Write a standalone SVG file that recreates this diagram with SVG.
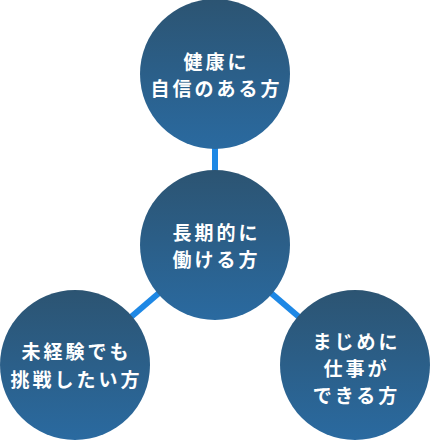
<svg xmlns="http://www.w3.org/2000/svg" width="430" height="440" viewBox="0 0 430 440">
  <defs>
    <linearGradient id="g" x1="0" y1="0" x2="0" y2="1">
      <stop offset="0" stop-color="#2c5472"/>
      <stop offset="1" stop-color="#2a6aa0"/>
    </linearGradient>
    <style>
      .c { fill: url(#g); }
      .t { fill: #ffffff; font-family: "Noto Sans CJK JP", "Noto Sans", sans-serif; font-size: 19px; font-weight: bold; letter-spacing: 3px; text-anchor: middle; }
      .l { stroke: #1e88e5; stroke-width: 6; fill: none; }
    </style>
  </defs>
  <g id="connectors">
    <line class="l" x1="215" y1="140" x2="215" y2="180"/>
    <line class="l" x1="215" y1="245" x2="75" y2="365"/>
    <line class="l" x1="215" y1="245" x2="355" y2="365"/>
  </g>
  <g id="node-top">
    <circle class="c" cx="215" cy="74" r="75"/>
    <text class="t" x="216.5" y="69">健康に</text>
    <text class="t" x="216.5" y="96">自信のある方</text>
  </g>
  <g id="node-center">
    <circle class="c" cx="215" cy="245" r="75"/>
    <text class="t" x="216.5" y="240">長期的に</text>
    <text class="t" x="216.5" y="267">働ける方</text>
  </g>
  <g id="node-left">
    <circle class="c" cx="75" cy="365" r="75"/>
    <text class="t" x="76.5" y="359">未経験でも</text>
    <text class="t" x="76.5" y="387">挑戦したい方</text>
  </g>
  <g id="node-right">
    <circle class="c" cx="355" cy="365" r="75"/>
    <text class="t" x="356.5" y="349">まじめに</text>
    <text class="t" x="356.5" y="376">仕事が</text>
    <text class="t" x="356.5" y="403">できる方</text>
  </g>
</svg>
